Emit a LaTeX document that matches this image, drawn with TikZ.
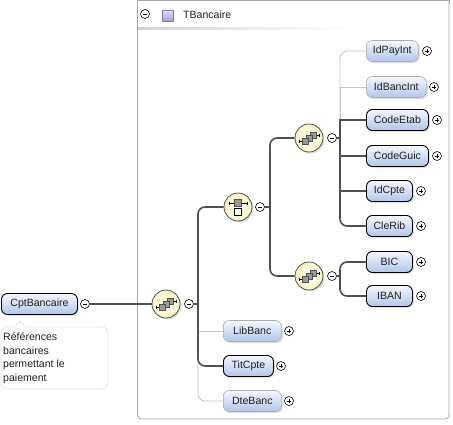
\documentclass[tikz,border=0pt]{standalone}
\usepackage{fontspec}
\setmainfont{Liberation Sans}
\usetikzlibrary{shadows}
\definecolor{darkln}{HTML}{505050}
\definecolor{lightln}{HTML}{C4C4C4}
\definecolor{elemtop}{HTML}{F4F7FD}
\definecolor{elembot}{HTML}{B2C6EA}
\definecolor{yel}{HTML}{FAF3C6}
\definecolor{yelin}{HTML}{FFFCE8}
\definecolor{frame}{HTML}{A8A8A8}
\definecolor{lavtop}{HTML}{E4DDF6}
\definecolor{lavbot}{HTML}{A898D8}
\definecolor{iconsq}{HTML}{9A9A9A}
\definecolor{txt}{HTML}{202020}
\newcommand{\nf}{\fontsize{10.6}{12}\selectfont}
\tikzset{
  elem/.style={rounded corners=6bp, minimum height=21bp, inner sep=0pt, anchor=west,
    font=\nf, text=txt, top color=elemtop, bottom color=elembot,
    drop shadow={opacity=0.25, shadow xshift=1.5bp, shadow yshift=-1.5bp}},
  mand/.style={elem, draw=black, line width=0.9bp},
  opt/.style={elem, draw=gray!65, line width=0.6bp},
  pmbase/.style={circle, draw=black, line width=0.6bp, fill=white, inner sep=0pt, minimum size=9bp},
  minussym/.style={pmbase, path picture={\draw[line width=0.7bp]
      ([xshift=-2.4bp]path picture bounding box.center) -- ([xshift=2.4bp]path picture bounding box.center);}},
  plussym/.style={pmbase, path picture={\draw[line width=0.7bp]
      ([xshift=-2.4bp]path picture bounding box.center) -- ([xshift=2.4bp]path picture bounding box.center)
      ([yshift=-2.4bp]path picture bounding box.center) -- ([yshift=2.4bp]path picture bounding box.center);}},
  compositor/.style={circle, draw=darkln, line width=0.8bp, minimum size=28bp, inner sep=0pt,
    inner color=yelin, outer color=yel,
    drop shadow={opacity=0.25, shadow xshift=1.5bp, shadow yshift=-1.5bp}},
  darkc/.style={draw=darkln, line width=1.6bp},
  lightc/.style={draw=lightln, line width=0.9bp},
  seqicon/.pic={
    \draw[line width=0.7bp] (-10,3) -- (-6,3) (6,-3) -- (10,-3);
    \draw[line width=0.7bp] (-10,1.5) -- (-10,4.5) (10,-4.5) -- (10,-1.5);
    \draw[fill=iconsq, draw=darkln, line width=0.5bp] (1,-6) rectangle (7,0);
    \draw[fill=iconsq, draw=darkln, line width=0.5bp] (-3,-3) rectangle (3,3);
    \draw[fill=iconsq, draw=darkln, line width=0.5bp] (-7,0) rectangle (-1,6);
  },
  choiceicon/.pic={
    \draw[line width=0.7bp] (-9,-4) -- (9,-4);
    \draw[line width=0.7bp] (-9,-5.5) -- (-9,-2.5) (9,-5.5) -- (9,-2.5);
    \draw[fill=iconsq, draw=darkln, line width=0.5bp] (-3.5,-7.5) rectangle (3.5,-1);
    \draw[fill=white, draw=black, line width=0.6bp] (-3.5,1.5) rectangle (3.5,8.5);
  }
}
\begin{document}
\begin{tikzpicture}[x=1bp,y=-1bp]
\useasboundingbox (0,0) rectangle (453,424);
% container
\draw[frame, line width=0.9bp] (449,4) -- (449,0.5) -- (137.5,0.5) -- (137.5,4);
\draw[frame, line width=0.9bp, rounded corners=4bp] (137.5,2) -- (137.5,419) -- (449,419) -- (449,2);
\shade[left color=gray!35, right color=white] (138,27.3) rectangle (350,29.3);
\node[minussym] (tm) at (145,14) {};
\node[draw=lavbot!80!black, line width=0.5bp, top color=lavtop, bottom color=lavbot,
      minimum size=11bp, inner sep=0pt] (tsq) at (167.5,16) {};
\node[font=\nf, text=txt, anchor=west, inner sep=0pt] (ttl) at (183,14.5) {TBancaire};

% root element
\node[mand, minimum width=76bp] (root) at (1,304) {CptBancaire};
\node[minussym] (mr) at (85,304) {};
% annotation
\draw[gray!22, line width=0.8bp, fill=white, rounded corners=5bp] (1,327) rectangle (108,389);
\draw[gray!22, line width=0.8bp, fill=white] (14,327.4) -- (20,321.5) -- (26,327.4);
\fill[white] (14.8,327.4) rectangle (25.2,328.2);
\node[font={\fontsize{10.6}{13.7}\selectfont}, text=txt, anchor=north west, align=left, inner sep=0pt] (ann) at (3,332.5)
  {Références\\bancaires\\permettant le\\paiement};

% compositors
\node[compositor] (s0) at (166,304) {};
\pic at (s0.center) {seqicon};
\node[minussym] (m0) at (189,304) {};
\node[compositor] (ch) at (238,207) {};
\pic at (ch.center) {choiceicon};
\node[minussym] (mc) at (260,207) {};
\node[compositor] (s1) at (309,138) {};
\pic at (s1.center) {seqicon};
\node[minussym] (m1) at (332,138) {};
\node[compositor] (s2) at (309,276) {};
\pic at (s2.center) {seqicon};
\node[minussym] (m2) at (332,276) {};

% leaf elements
\node[opt,  minimum width=52bp] (idpay)  at (366,51)  {IdPayInt};
\node[opt,  minimum width=60bp] (idbanc) at (366,87)  {IdBancInt};
\node[mand, minimum width=62bp] (cetab)  at (366,120) {CodeEtab};
\node[mand, minimum width=62bp] (cguic)  at (366,156) {CodeGuic};
\node[mand, minimum width=46bp] (idcpte) at (366,191) {IdCpte};
\node[mand, minimum width=46bp] (clerib) at (366,226) {CleRib};
\node[mand, minimum width=46bp] (bic)    at (366,262) {BIC};
\node[mand, minimum width=46bp] (iban)   at (366,296) {IBAN};
\node[opt,  minimum width=58bp] (libb)   at (223,331) {LibBanc};
\node[mand, minimum width=50bp] (titc)   at (223,366) {TitCpte};
\node[opt,  minimum width=58bp] (dteb)   at (223,401) {DteBanc};

\node[plussym] (p1)  at (427,51)  {};
\node[plussym] (p2)  at (434,87)  {};
\node[plussym] (p3)  at (437,120) {};
\node[plussym] (p4)  at (437,156) {};
\node[plussym] (p5)  at (421,191) {};
\node[plussym] (p6)  at (421,226) {};
\node[plussym] (p7)  at (421,262) {};
\node[plussym] (p8)  at (421,296) {};
\node[plussym] (p9)  at (289,331) {};
\node[plussym] (p10) at (281,366) {};
\node[plussym] (p11) at (289,401) {};

% trunks
\coordinate (t0) at (198,304);
\coordinate (tc) at (270,207);
\coordinate (t1) at (340,138);
\coordinate (t2) at (340,276);

% root -> s0
\draw[darkc] (mr.east) -- (s0.west);
% s0 children
\draw[lightc] (m0.east) -- (t0);
\draw[lightc] (t0) |- (libb.west);
\draw[lightc, rounded corners=7bp] (t0) |- (dteb.west);
\draw[darkc] (m0.east) -- (t0);
\draw[darkc, rounded corners=7bp] (t0) |- (ch.west);
\draw[darkc, rounded corners=7bp] (t0) |- (titc.west);
% choice children
\draw[darkc] (mc.east) -- (tc);
\draw[darkc, rounded corners=7bp] (tc) |- (s1.west);
\draw[darkc, rounded corners=7bp] (tc) |- (s2.west);
% s1 children
\draw[lightc, rounded corners=7bp] (t1) |- (idpay.west);
\draw[lightc] (t1) |- (idbanc.west);
\draw[darkc] (m1.east) -- (t1);
\draw[darkc] (t1) |- (cetab.west);
\draw[darkc] (t1) |- (cguic.west);
\draw[darkc] (t1) |- (idcpte.west);
\draw[darkc, rounded corners=7bp] (t1) |- (clerib.west);
% s2 children
\draw[darkc] (m2.east) -- (t2);
\draw[darkc, rounded corners=7bp] (t2) |- (bic.west);
\draw[darkc, rounded corners=7bp] (t2) |- (iban.west);
\end{tikzpicture}
\end{document}
